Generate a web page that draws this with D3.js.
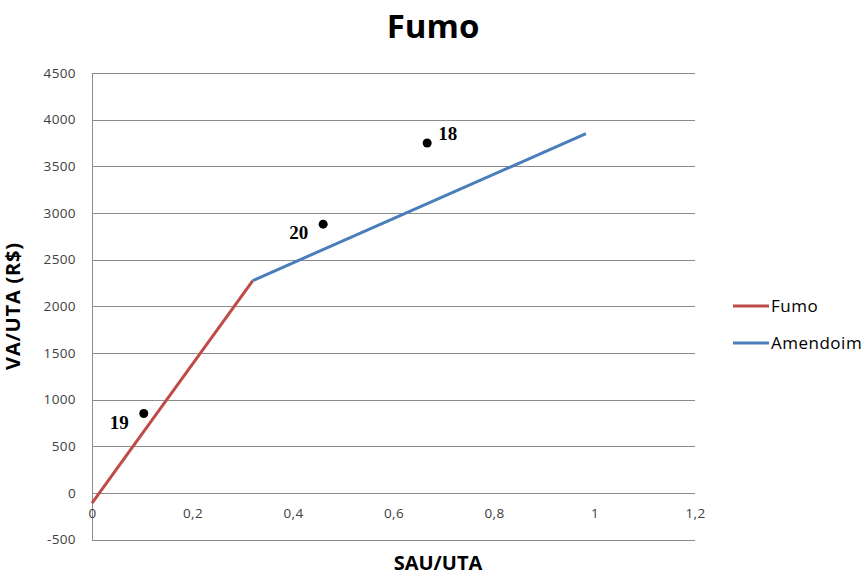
<!DOCTYPE html>
<html>
<head>
<meta charset="utf-8">
<script src="https://cdn.jsdelivr.net/npm/d3@7"></script>
<style>
  html, body { margin: 0; padding: 0; background: #fff; }
  svg { display: block; }
</style>
</head>
<body>
<svg id="chart" width="867" height="576"></svg>
<script>
// Series: piecewise segments (SAU/UTA, VA/UTA)
const fumoLine = [[0, -110], [0.32, 2275]];
const amendoimLine = [[0.32, 2275], [0.983, 3850]];

// Individual observations
const pointIds = ["19", "20", "18"];
const pointX = [0.103, 0.460, 0.667];
const pointY = [850, 2880, 3750];

// Axis ticks
const xTicks = [0, 0.2, 0.4, 0.6, 0.8, 1, 1.2];
const yTicks = [-500, 0, 500, 1000, 1500, 2000, 2500, 3000, 3500, 4000, 4500];

const seriesNames = ["Fumo", "Amendoim"];
const seriesColors = ["#BE4B48", "#4A7EBB"];

const svg = d3.select("#chart");
const plotLeft = 92, plotRight = 695, plotTop = 73, plotBottom = 539.5;

const x = d3.scaleLinear().domain([0, 1.2]).range([plotLeft, plotRight]);
const y = d3.scaleLinear().domain([-500, 4500]).range([plotBottom, plotTop]);

const fmt = v => String(v).replace(".", ",");
const uiFont = "'Open Sans', 'DejaVu Sans', sans-serif";

// Horizontal gridlines
svg.append("g")
  .selectAll("line")
  .data(yTicks)
  .join("line")
  .attr("x1", plotLeft).attr("x2", plotRight)
  .attr("y1", d => Math.round(y(d)) + 0.5).attr("y2", d => Math.round(y(d)) + 0.5)
  .attr("stroke", "#8c8c8c").attr("stroke-width", 1);

// Vertical axis
const yAxis = d3.axisLeft(y).tickValues(yTicks).tickSize(0).tickPadding(16).tickFormat(d => d);
const gy = svg.append("g").attr("transform", `translate(${plotLeft},0)`).call(yAxis);
gy.select(".domain").attr("stroke", "#8c8c8c").attr("shape-rendering", "crispEdges");
gy.selectAll("text")
  .attr("font-family", uiFont).attr("font-size", 13.5).attr("letter-spacing", "0.4px")
  .attr("fill", "#404040");

// Horizontal axis labels (axis crosses at 0, labels sit below it)
const xAxis = d3.axisBottom(x).tickValues(xTicks).tickSize(0).tickPadding(16).tickFormat(fmt);
const gx = svg.append("g").attr("transform", `translate(0,${y(0)})`).call(xAxis);
gx.select(".domain").remove();
gx.selectAll("text")
  .attr("font-family", uiFont).attr("font-size", 13.5).attr("letter-spacing", "0.4px")
  .attr("fill", "#404040");

// Lines
const line = d3.line().x(d => x(d[0])).y(d => y(d[1]));
[fumoLine, amendoimLine].forEach((data, i) => {
  svg.append("path")
    .datum(data)
    .attr("d", line)
    .attr("fill", "none")
    .attr("stroke", seriesColors[i])
    .attr("stroke-width", 3)
    .attr("stroke-linecap", "butt");
});

// Points
svg.append("g")
  .selectAll("circle")
  .data(pointX)
  .join("circle")
  .attr("cx", d => x(d))
  .attr("cy", (d, i) => y(pointY[i]))
  .attr("r", 4.5)
  .attr("fill", "#000");

// Point labels
const labelOffsets = [[-34, 15], [-34, 15], [11, -3]];
svg.append("g")
  .selectAll("text")
  .data(pointIds)
  .join("text")
  .attr("x", (d, i) => x(pointX[i]) + labelOffsets[i][0])
  .attr("y", (d, i) => y(pointY[i]) + labelOffsets[i][1])
  .attr("font-family", "'Liberation Serif', 'Times New Roman', serif")
  .attr("font-weight", "bold")
  .attr("font-size", 19)
  .attr("fill", "#000")
  .text(d => d);

// Title
svg.append("text")
  .attr("x", 433).attr("y", 38)
  .attr("text-anchor", "middle")
  .attr("font-family", uiFont).attr("font-weight", "bold").attr("font-size", 33)
  .attr("fill", "#000")
  .text("Fumo");

// Axis titles
svg.append("text")
  .attr("x", 438).attr("y", 570)
  .attr("text-anchor", "middle")
  .attr("font-family", uiFont).attr("font-weight", "bold").attr("font-size", 20)
  .attr("fill", "#000")
  .text("SAU/UTA");

svg.append("text")
  .attr("transform", "translate(20,306) rotate(-90)")
  .attr("text-anchor", "middle")
  .attr("font-family", uiFont).attr("font-weight", "bold").attr("font-size", 20)
  .attr("letter-spacing", "0.8px")
  .attr("fill", "#000")
  .text("VA/UTA (R$)");

// Legend
const legend = svg.append("g")
  .selectAll("g")
  .data(seriesNames)
  .join("g")
  .attr("transform", (d, i) => `translate(733,${306 + i * 37})`);
legend.append("line")
  .attr("x1", 0).attr("x2", 36).attr("y1", 0).attr("y2", 0)
  .attr("stroke", (d, i) => seriesColors[i]).attr("stroke-width", 3);
legend.append("text")
  .attr("x", 38).attr("y", 0).attr("dy", "0.35em")
  .attr("font-family", uiFont).attr("font-size", 17).attr("letter-spacing", "0.5px")
  .attr("fill", "#000")
  .text(d => d);
</script>
</body>
</html>
